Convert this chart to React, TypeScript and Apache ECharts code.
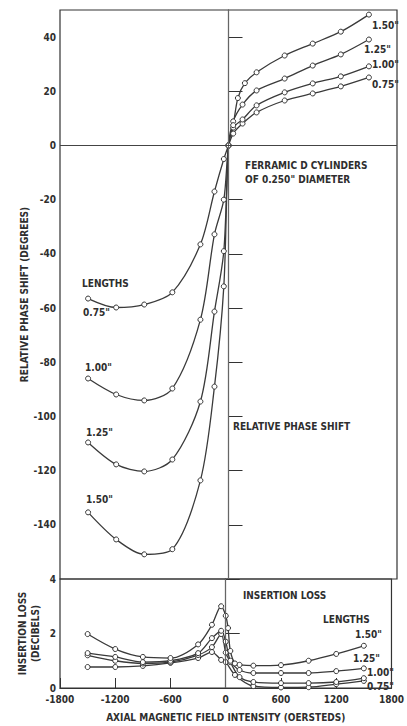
import React, { useEffect, useRef } from "react";
import * as echarts from "echarts";

// Relative phase shift (degrees) vs axial field (oersteds)
const P075: number[][] = [[-1500,-56.5],[-1200,-59.8],[-900,-58.7],[-600,-54.2],[-300,-36.5],[-150,-17],[-50,-5],[0,0],[50,4.4],[150,8.1],[300,12.2],[600,16.6],[900,19.2],[1200,21.8],[1500,25.1]];
const P100: number[][] = [[-1500,-86],[-1200,-91.9],[-900,-94.1],[-600,-89.7],[-300,-64.3],[-150,-32.8],[-50,-20],[0,0],[50,6.6],[150,9.6],[300,14.8],[600,19.6],[900,22.9],[1200,25.5],[1500,29.2]];
const P125: number[][] = [[-1500,-109.6],[-1200,-117.7],[-900,-120.3],[-600,-115.9],[-300,-94.5],[-150,-61.3],[-50,-39],[0,0],[50,8.9],[150,15.1],[300,20.3],[600,24.7],[900,29.5],[1200,33.6],[1500,39.1]];
const P150: number[][] = [[-1500,-135.4],[-1200,-145.4],[-900,-150.9],[-600,-149],[-300,-123.6],[-150,-89],[-50,-52],[0,0],[50,7.5],[100,17.5],[175,23],[300,27],[600,33.2],[900,37.6],[1200,42],[1500,48.3]];

// Insertion loss (decibels)
const IL075: number[][] = [[-1500,0.77],[-1200,0.77],[-900,0.81],[-600,0.92],[-300,1.1],[-150,1.32],[-50,1.03],[0,0.95],[100,0.48],[300,0.07],[600,0.02],[900,0.03],[1200,0.14],[1500,0.26]];
const IL100: number[][] = [[-1500,1.2],[-1200,1.0],[-900,0.9],[-600,0.95],[-300,1.21],[-150,1.5],[-50,1.98],[0,1.3],[50,0.95],[150,0.4],[300,0.22],[600,0.18],[900,0.18],[1200,0.22],[1500,0.36]];
const IL125: number[][] = [[-1500,1.28],[-1200,1.14],[-900,0.95],[-600,1.0],[-300,1.28],[-150,1.83],[-50,2.1],[0,1.7],[50,1.0],[150,0.66],[300,0.55],[600,0.55],[900,0.55],[1200,0.62],[1500,0.72]];
const IL150: number[][] = [[-1500,1.98],[-1200,1.43],[-900,1.14],[-600,1.1],[-300,1.6],[-150,2.32],[-50,3.0],[0,2.65],[25,2.2],[50,1.36],[100,0.9],[150,0.85],[300,0.82],[600,0.84],[900,1.0],[1200,1.25],[1500,1.55]];

const PHASE_TICKS = [-140, -120, -100, -80, -60, -40, -20, 0, 20, 40];
const LOSS_TICKS = [0, 2, 4];
const X_TICKS = [-1800, -1200, -600, 0, 600, 1200, 1800];

const PHASE_SERIES = [
  { name: '0.75"', data: P075 },
  { name: '1.00"', data: P100 },
  { name: '1.25"', data: P125 },
  { name: '1.50"', data: P150 },
];
const LOSS_SERIES = [
  { name: '0.75"', data: IL075 },
  { name: '1.00"', data: IL100 },
  { name: '1.25"', data: IL125 },
  { name: '1.50"', data: IL150 },
];

const FONT = "'DejaVu Sans Condensed', 'Liberation Sans Narrow', 'DejaVu Sans', sans-serif";
const INK = "#2e2e2e";

function txt(text: string, x: number, y: number, size = 10) {
  return {
    type: "text",
    left: x,
    top: y,
    silent: true,
    style: { text, fill: INK, font: `bold ${size}px ${FONT}` },
  };
}

export default function App() {
  const ref = useRef<HTMLDivElement>(null);
  useEffect(() => {
    document.body.style.margin = "0";
    const chart = echarts.init(ref.current!, null, { renderer: "svg" });
    const lineCommon = {
      type: "line",
      smooth: 0.3,
      symbol: "circle",
      symbolSize: 5,
      lineStyle: { color: "#3a3a3a", width: 1.3 },
      itemStyle: { color: "#ffffff", borderColor: "#333", borderWidth: 1 },
      silent: true,
      z: 3,
    };
    const series: any[] = [];
    PHASE_SERIES.forEach((s, i) => {
      series.push({
        ...lineCommon,
        name: "phase " + s.name,
        xAxisIndex: 0,
        yAxisIndex: 0,
        data: s.data,
        markLine: i === 0 ? {
          silent: true,
          symbol: "none",
          label: { show: false },
          lineStyle: { color: "#666", width: 1, type: "solid" },
          data: [{ xAxis: 0 }, { yAxis: 0, lineStyle: { color: "#444", width: 1.2 } }],
        } : undefined,
      });
    });
    LOSS_SERIES.forEach((s, i) => {
      series.push({
        ...lineCommon,
        name: "loss " + s.name,
        xAxisIndex: 1,
        yAxisIndex: 1,
        data: s.data,
        markLine: i === 0 ? {
          silent: true,
          symbol: "none",
          label: { show: false },
          lineStyle: { color: "#666", width: 1, type: "solid" },
          data: [{ xAxis: 0 }],
        } : undefined,
      });
    });

    const axisLabelStyle = { color: INK, fontFamily: FONT, fontWeight: "bold", fontSize: 10, formatter: (v: number) => String(v) };

    chart.setOption({
      animation: false,
      backgroundColor: "#ffffff",
      grid: [
        { left: 60, right: 10, top: 10, height: 569, show: true, borderColor: "#333", borderWidth: 1.2 },
        { left: 60, right: 10, top: 579, height: 109, show: true, borderColor: "#333", borderWidth: 1.2 },
      ],
      xAxis: [
        {
          gridIndex: 0, type: "value", min: -1800, max: 1800, interval: 600,
          axisLine: { show: false }, axisTick: { show: false }, axisLabel: { show: false }, splitLine: { show: false },
        },
        {
          gridIndex: 1, type: "value", min: -1800, max: 1800, interval: 600,
          axisLine: { show: true, lineStyle: { color: "#333", width: 1.2 } },
          axisTick: { show: true, inside: true, length: 10, customValues: X_TICKS, lineStyle: { color: "#333" } },
          axisLabel: { ...axisLabelStyle, margin: 6, customValues: X_TICKS },
          splitLine: { show: false },
          name: "AXIAL MAGNETIC FIELD INTENSITY (OERSTEDS)",
          nameLocation: "middle",
          nameGap: 24,
          nameTextStyle: { color: INK, fontFamily: FONT, fontWeight: "bold", fontSize: 10 },
        },
      ],
      yAxis: [
        {
          gridIndex: 0, type: "value", min: -160, max: 50,
          axisLine: { show: true, lineStyle: { color: "#333", width: 1.2 } },
          axisTick: { show: true, inside: true, length: 14, customValues: PHASE_TICKS, lineStyle: { color: "#333" } },
          axisLabel: { ...axisLabelStyle, margin: 4, customValues: PHASE_TICKS },
          splitLine: { show: false },
          name: "RELATIVE PHASE SHIFT (DEGREES)",
          nameLocation: "middle",
          nameGap: 31,
          nameMoveOverlap: false,
          nameTextStyle: { color: INK, fontFamily: FONT, fontWeight: "bold", fontSize: 10 },
        },
        {
          gridIndex: 1, type: "value", min: 0, max: 4,
          axisLine: { show: true, lineStyle: { color: "#333", width: 1.2 } },
          axisTick: { show: true, inside: true, length: 14, customValues: LOSS_TICKS, lineStyle: { color: "#333" } },
          axisLabel: { ...axisLabelStyle, margin: 4, customValues: LOSS_TICKS },
          splitLine: { show: false },
          name: "INSERTION LOSS\n(DECIBELS)",
          nameLocation: "middle",
          nameGap: 18,
          nameMoveOverlap: false,
          nameTextStyle: { color: INK, fontFamily: FONT, fontWeight: "bold", fontSize: 10, lineHeight: 13 },
        },
      ],
      graphic: [
        txt('1.50"', 372, 20),
        txt('1.25"', 364, 44),
        txt('1.00"', 372, 59),
        txt('0.75"', 372, 79),
        txt("FERRAMIC D CYLINDERS", 245, 160),
        txt('OF 0.250" DIAMETER', 245, 174),
        txt("LENGTHS", 82, 278),
        txt('0.75"', 83, 307),
        txt('1.00"', 85, 362),
        txt('1.25"', 86, 427),
        txt('1.50"', 86, 494),
        txt("RELATIVE PHASE SHIFT", 233, 421),
        txt("INSERTION LOSS", 243, 590),
        txt("LENGTHS", 323, 614),
        txt('1.50"', 355, 629),
        txt('1.25"', 353, 653),
        txt('1.00"', 367, 667),
        txt('0.75"', 367, 681),
      ],
      series,
    });
    return () => chart.dispose();
  }, []);
  return <div ref={ref} style={{ width: 407, height: 726 }} />;
}
